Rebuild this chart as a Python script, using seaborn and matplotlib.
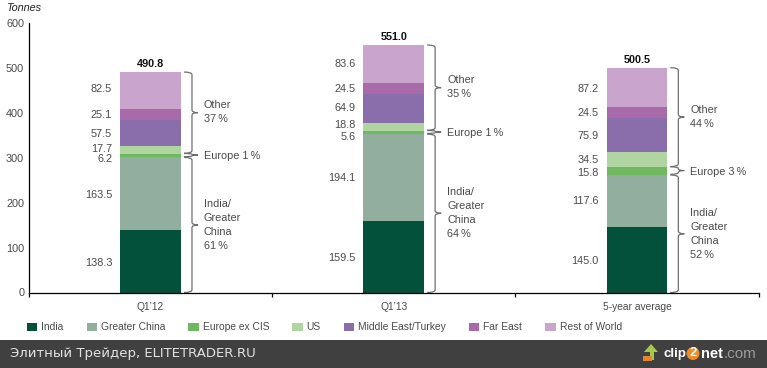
import matplotlib
matplotlib.use("Agg")
import matplotlib.pyplot as plt
import seaborn as sns
from matplotlib.path import Path
from matplotlib.patches import PathPatch, Rectangle, Circle, Polygon

W, H = 767, 368

periods = ["Q1\u201912", "Q1\u201913", "5-year average"]
regions = ["India", "Greater China", "Europe ex CIS", "US", "Middle East/Turkey", "Far East", "Rest of World"]
colors = ["#03503b", "#92ae9f", "#6fb85f", "#b0d5a0", "#8a6dab", "#a86aa8", "#c9a5cd"]

india = [138.3, 159.5, 145.0]
greater_china = [163.5, 194.1, 117.6]
europe = [6.2, 5.6, 15.8]
us = [17.7, 18.8, 34.5]
middle_east = [57.5, 64.9, 75.9]
far_east = [25.1, 24.5, 24.5]
rest_of_world = [82.5, 83.6, 87.2]
series = [india, greater_china, europe, us, middle_east, far_east, rest_of_world]
totals = ["490.8", "551.0", "500.5"]

other_pct = ["37%", "35%", "44%"]
europe_pct = ["1%", "1%", "3%"]
asia_pct = ["61%", "64%", "52%"]

# vertical nudges (px) for the value labels, bottom segment first
nudges = [
    [-1, -1, -3, 2, 0, 0, 2],
    [-1, 0, -4, 2, 1, 0, 0],
    [-1, 0, -1, 0, -1, 0, -1],
]

sns.set_style("white")
plt.rcParams["font.family"] = ["Liberation Sans", "DejaVu Sans"]
TXT = "#4a4a4a"
FS = 7.8
FS_SMALL = 7.4

fig = plt.figure(figsize=(W / 100, H / 100), dpi=100, facecolor="white")
ax = fig.add_axes([29 / W, (H - 292.5) / H, 729.5 / W, 269.5 / H])

# stacked bars
bottoms = [0.0, 0.0, 0.0]
for name, vals, c in zip(regions, series, colors):
    sns.barplot(x=periods, y=vals, bottom=bottoms, color=c, width=0.25, saturation=1,
                linewidth=0, label=name, legend=False, ax=ax)
    bottoms = [b + v for b, v in zip(bottoms, vals)]

ax.set_xlim(-0.5, 2.5)
ax.set_ylim(0, 600)
ax.set_yticks(range(0, 601, 100))
ax.set_xticks([-0.5, 0.5, 1.5, 2.5])
ax.set_xticklabels([])
ax.set_xticks([0, 1, 2], labels=periods, minor=True)
ax.tick_params(axis="x", which="major", length=3.2, width=0.9, color="black", direction="out", bottom=True)
ax.tick_params(axis="x", which="minor", length=0, labelsize=FS_SMALL, labelcolor=TXT, pad=6.5)
ax.tick_params(axis="y", length=0, labelsize=FS, labelcolor=TXT, pad=3.5)
ax.spines["top"].set_visible(False)
ax.spines["right"].set_visible(False)
for s in ["left", "bottom"]:
    ax.spines[s].set_linewidth(0.9)
    ax.spines[s].set_color("black")
ax.set_xlabel("")
ax.set_ylabel("")

PX = 3 / 729.5


def brace(i, lo, hi):
    # curly bracket to the right of bar i, spanning lo..hi tonnes
    x0 = i + 0.125 + 3 * PX
    x1 = i + 0.125 + 11 * PX
    x2 = i + 0.125 + 17 * PX
    ym = (lo + hi) / 2
    r = min(6.0, (hi - lo) / 4)
    verts = [(x0, hi), (x1, hi), (x1, hi - r), (x1, ym + r), (x1, ym), (x2, ym),
             (x1, ym), (x1, ym - r), (x1, lo + r), (x1, lo), (x0, lo)]
    codes = [Path.MOVETO, Path.CURVE3, Path.CURVE3, Path.LINETO, Path.CURVE3, Path.CURVE3,
             Path.CURVE3, Path.CURVE3, Path.LINETO, Path.CURVE3, Path.CURVE3]
    ax.add_patch(PathPatch(Path(verts, codes), fc="none", ec="#6e6e6e", lw=0.9, clip_on=False))


for i in range(3):
    # value labels to the left of the bar
    b = 0.0
    for k, vals in enumerate(series):
        ax.annotate(f"{vals[i]:.1f}", (i - 0.125, b + vals[i] / 2), xytext=(-8, nudges[i][k] - 0.5),
                    textcoords="offset pixels", ha="right", va="center", fontsize=FS, color=TXT)
        b += vals[i]
    ax.annotate(totals[i], (i, b), xytext=(0, 3), textcoords="offset pixels", ha="center", va="bottom",
                fontsize=FS, fontweight="bold", color="#111111")

    asia_top = india[i] + greater_china[i]
    eu_top = asia_top + europe[i]
    brace(i, 0, asia_top - 1)
    brace(i, asia_top + 0.5, eu_top + 1.5)
    brace(i, eu_top + 2, b)

    lx = i + 0.125 + 23 * PX
    ax.text(lx, (eu_top + b) / 2 + 1.5, "Other\n" + other_pct[i].replace("%", "\u2009%"), ha="left", va="center",
            fontsize=FS, color=TXT, linespacing=1.5)
    ax.text(lx, (asia_top + eu_top) / 2 - 1.5, "Europe " + europe_pct[i].replace("%", "\u2009%"), ha="left", va="center",
            fontsize=FS, color=TXT)
    ax.text(lx, asia_top / 2, "India/\nGreater\nChina\n" + asia_pct[i].replace("%", "\u2009%"), ha="left", va="center",
            fontsize=FS, color=TXT, linespacing=1.5)

fig.text(6 / W, 1 - 8 / H, "Tonnes", style="italic", fontsize=FS, color="#222222", ha="left", va="center")

# legend built from the bar containers
leg = fig.legend(list(ax.containers), regions, loc="center left", bbox_to_anchor=(27 / W, 1 - 327.5 / H), ncol=7,
                 frameon=False, fontsize=FS_SMALL, labelcolor=TXT, handlelength=1.0, handleheight=0.9,
                 handletextpad=0.4, columnspacing=2.24, borderpad=0, borderaxespad=0)

# footer band and watermark, in picture pixels
top = fig.add_axes([0, 0, 1, 1], zorder=3)
top.set_xlim(0, W)
top.set_ylim(H, 0)
top.axis("off")
top.add_patch(Rectangle((0, 340), W, 28, fc="#404040", ec="none"))
top.text(10, 353.5, "\u042d\u043b\u0438\u0442\u043d\u044b\u0439 \u0422\u0440\u0435\u0439\u0434\u0435\u0440, ELITETRADER.RU",
         family=["DejaVu Sans"], fontsize=9.55, color="#e2e2e2", ha="left", va="center")
top.add_patch(Polygon([(644, 352), (651, 344), (658, 352), (654, 352), (654, 360), (650, 360), (650, 352)],
                      fc="#a8c84a", ec="none"))
top.add_patch(Rectangle((643, 356), 9, 4.5, fc="#e8852a", ec="none"))
top.add_patch(Circle((693, 353.5), 6.5, fc="#f08a24", ec="none"))
top.text(663, 353.5, "clip", fontsize=9.5, fontweight="bold", color="white", ha="left", va="center")
top.text(693, 353.5, "2", fontsize=9.5, fontweight="bold", color="white", ha="center", va="center")
top.text(700.5, 353.5, "net", fontsize=10.5, fontweight="bold", color="white", ha="left", va="center")
top.text(724, 353.5, ".com", fontsize=11, color="#9a9a9a", ha="left", va="center")

fig.savefig("out.png", dpi=100, facecolor="white")
print("Saved: out.png")
